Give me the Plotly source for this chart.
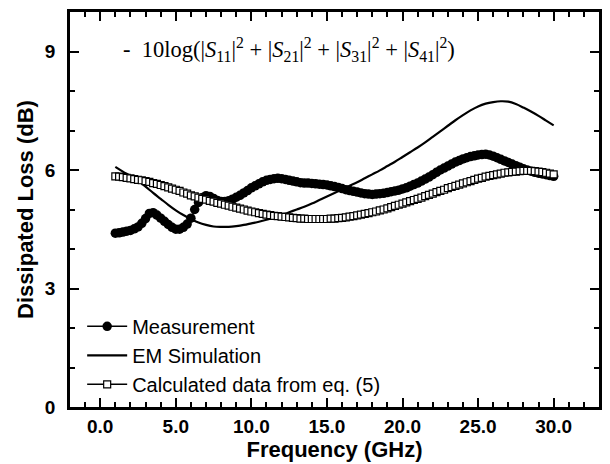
import plotly.graph_objects as go

# ---- data ----
freq_meas = [1.00, 1.25, 1.50, 1.75, 2.00, 2.25, 2.50, 2.75, 3.00, 3.25, 3.50, 3.75,
             4.00, 4.25, 4.50, 4.75, 5.00, 5.25, 5.50, 5.75, 6.00, 6.25, 6.50, 6.75,
             7.00, 7.25, 7.50, 7.75, 8.00, 8.25, 8.50, 8.75, 9.00, 9.25, 9.50, 9.75,
             10.00, 10.25, 10.50, 10.75, 11.00, 11.25, 11.50, 11.75, 12.00, 12.25, 12.50, 12.75,
             13.00, 13.25, 13.50, 13.75, 14.00, 14.25, 14.50, 14.75, 15.00, 15.25, 15.50, 15.75,
             16.00, 16.25, 16.50, 16.75, 17.00, 17.25, 17.50, 17.75, 18.00, 18.25, 18.50, 18.75,
             19.00, 19.25, 19.50, 19.75, 20.00, 20.25, 20.50, 20.75, 21.00, 21.25, 21.50, 21.75,
             22.00, 22.25, 22.50, 22.75, 23.00, 23.25, 23.50, 23.75, 24.00, 24.25, 24.50, 24.75,
             25.00, 25.25, 25.50, 25.75, 26.00, 26.25, 26.50, 26.75, 27.00, 27.25, 27.50, 27.75,
             28.00, 28.25, 28.50, 28.75, 29.00, 29.25, 29.50, 29.75, 30.00]

measurement = [4.40, 4.41, 4.43, 4.45, 4.47, 4.51, 4.56, 4.65, 4.77, 4.90, 4.92, 4.86,
               4.78, 4.70, 4.62, 4.55, 4.50, 4.50, 4.55, 4.63, 4.78, 5.00, 5.18, 5.30,
               5.35, 5.33, 5.28, 5.23, 5.20, 5.20, 5.22, 5.26, 5.31, 5.36, 5.42, 5.48,
               5.55, 5.60, 5.65, 5.70, 5.74, 5.76, 5.78, 5.79, 5.78, 5.76, 5.74, 5.72,
               5.70, 5.68, 5.67, 5.67, 5.66, 5.65, 5.64, 5.63, 5.62, 5.60, 5.58, 5.56,
               5.53, 5.50, 5.48, 5.46, 5.44, 5.42, 5.40, 5.39, 5.38, 5.39, 5.40, 5.41,
               5.43, 5.45, 5.47, 5.49, 5.52, 5.55, 5.59, 5.63, 5.67, 5.72, 5.77, 5.82,
               5.88, 5.94, 6.00, 6.05, 6.10, 6.15, 6.20, 6.24, 6.28, 6.31, 6.34, 6.36,
               6.38, 6.39, 6.40, 6.38, 6.35, 6.31, 6.27, 6.23, 6.19, 6.15, 6.11, 6.07,
               6.03, 6.00, 5.97, 5.94, 5.92, 5.90, 5.88, 5.86, 5.84]

calculated = [5.84, 5.83, 5.82, 5.80, 5.79, 5.77, 5.75, 5.74, 5.72, 5.70, 5.67, 5.65,
              5.62, 5.59, 5.56, 5.53, 5.50, 5.47, 5.43, 5.40, 5.36, 5.33, 5.30, 5.27,
              5.25, 5.22, 5.20, 5.17, 5.15, 5.12, 5.10, 5.07, 5.05, 5.02, 5.00, 4.97,
              4.95, 4.93, 4.91, 4.89, 4.87, 4.86, 4.84, 4.83, 4.82, 4.81, 4.80, 4.79,
              4.78, 4.77, 4.77, 4.76, 4.76, 4.76, 4.76, 4.76, 4.76, 4.77, 4.77, 4.78,
              4.79, 4.80, 4.82, 4.83, 4.85, 4.87, 4.89, 4.91, 4.93, 4.95, 4.98, 5.00,
              5.03, 5.06, 5.09, 5.12, 5.15, 5.18, 5.21, 5.24, 5.27, 5.30, 5.34, 5.37,
              5.40, 5.44, 5.47, 5.50, 5.54, 5.57, 5.60, 5.63, 5.66, 5.69, 5.72, 5.75,
              5.78, 5.80, 5.83, 5.85, 5.87, 5.89, 5.91, 5.93, 5.94, 5.95, 5.96, 5.97,
              5.98, 5.98, 5.98, 5.97, 5.96, 5.95, 5.93, 5.91, 5.89]

freq_sim = [1.0, 1.5, 2.0, 2.5, 3.0, 3.5, 4.0, 4.5, 5.0, 5.5, 6.0, 6.5, 7.0, 7.5, 8.0,
            8.5, 9.0, 9.5, 10.0, 10.5, 11.0, 11.5, 12.0, 12.5, 13.0, 13.5, 14.0, 14.5,
            15.0, 15.5, 16.0, 16.5, 17.0, 17.5, 18.0, 18.5, 19.0, 19.5, 20.0, 20.5,
            21.0, 21.5, 22.0, 22.5, 23.0, 23.5, 24.0, 24.5, 25.0, 25.5, 26.0, 26.5,
            27.0, 27.5, 28.0, 28.5, 29.0, 29.5, 30.0]

em_simulation = [6.08, 5.96, 5.85, 5.73, 5.58, 5.42, 5.27, 5.12, 4.98, 4.86, 4.76, 4.67,
                 4.61, 4.57, 4.56, 4.56, 4.58, 4.61, 4.65, 4.69, 4.74, 4.80, 4.86, 4.93,
                 5.00, 5.07, 5.15, 5.24, 5.33, 5.42, 5.51, 5.60, 5.69, 5.79, 5.89, 5.99,
                 6.10, 6.21, 6.33, 6.45, 6.57, 6.70, 6.84, 6.98, 7.12, 7.26, 7.39, 7.51,
                 7.61, 7.68, 7.72, 7.74, 7.73, 7.67, 7.58, 7.48, 7.37, 7.25, 7.13]

x_ticks = [0, 5, 10, 15, 20, 25, 30]
x_tick_labels = ["0.0", "5.0", "10.0", "15.0", "20.0", "25.0", "30.0"]
y_ticks = [0, 3, 6, 9]
y_tick_labels = ["0", "3", "6", "9"]

series_names = ["Measurement", "EM Simulation", "Calculated data from eq. (5)"]

fig = go.Figure()

fig.add_trace(go.Scatter(
    x=freq_meas, y=measurement, name=series_names[0],
    mode="lines+markers",
    line=dict(color="black", width=1.5),
    marker=dict(symbol="circle", size=9.5, color="black"),
))
fig.add_trace(go.Scatter(
    x=freq_sim, y=em_simulation, name=series_names[1],
    mode="lines", line=dict(color="black", width=2.2, shape="spline"),
))
fig.add_trace(go.Scatter(
    x=freq_meas, y=calculated, name=series_names[2],
    mode="lines+markers",
    line=dict(color="black", width=1.5),
    marker=dict(symbol="square", size=7, color="white",
                line=dict(color="black", width=1.2)),
))

axis_common = dict(
    showline=True, linecolor="black", linewidth=2.5, mirror="ticks",
    ticks="inside", ticklen=9, tickwidth=2, tickcolor="black",
    showgrid=False, zeroline=False,
    tickfont=dict(family="Liberation Sans, Arial, sans-serif", size=19, color="black", weight="bold"),
)

fig.update_xaxes(
    **axis_common,
    range=[-2, 33], tickvals=x_ticks, ticktext=x_tick_labels,
    minor=dict(dtick=1, tick0=0, ticks="inside", ticklen=5, tickwidth=2, tickcolor="black"),
    title=dict(text="<b>Frequency (GHz)</b>", standoff=4,
               font=dict(family="Liberation Sans, Arial, sans-serif", size=22, color="black")),
)
fig.update_yaxes(
    **axis_common,
    range=[0, 10], tickvals=y_ticks, ticktext=y_tick_labels,
    minor=dict(dtick=1, tick0=0, ticks="inside", ticklen=5, tickwidth=2, tickcolor="black"),
    ticklabelstandoff=8,
    title=dict(text="<b>Dissipated Loss (dB)</b>", standoff=6,
               font=dict(family="Liberation Sans, Arial, sans-serif", size=22, color="black")),
)

formula = ("-  10log(|<i>S</i><sub>11</sub>|<sup>2</sup> + |<i>S</i><sub>21</sub>|<sup>2</sup>"
           " + |<i>S</i><sub>31</sub>|<sup>2</sup> + |<i>S</i><sub>41</sub>|<sup>2</sup>)")
fig.add_annotation(
    text=formula, xref="paper", yref="paper", x=0.097, y=0.905,
    xanchor="left", yanchor="middle", showarrow=False,
    font=dict(family="Liberation Serif, Times New Roman, serif", size=22.5, color="black"),
)

fig.update_layout(
    width=610, height=464,
    margin=dict(l=70, r=8, t=12, b=57),
    paper_bgcolor="white", plot_bgcolor="white",
    showlegend=True,
    legend=dict(
        x=0.023, y=0.008, xanchor="left", yanchor="bottom",
        bgcolor="rgba(0,0,0,0)", borderwidth=0,
        font=dict(family="Liberation Sans, Arial, sans-serif", size=20, color="black"),
        tracegroupgap=0, itemwidth=40,
    ),
)

fig.write_html("out.html")
